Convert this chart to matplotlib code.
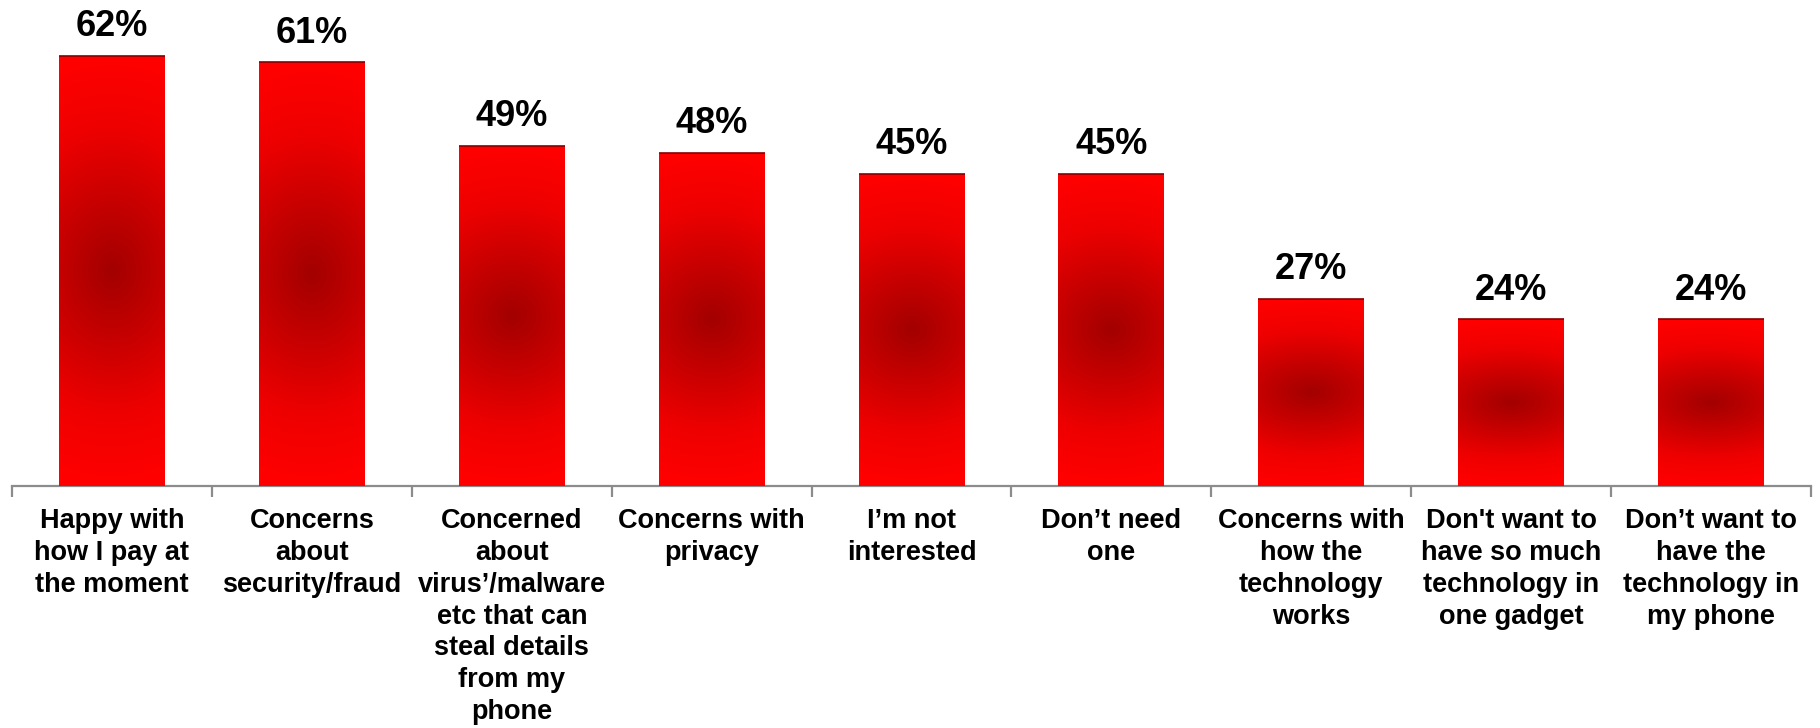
import numpy as np
import matplotlib
matplotlib.use("Agg")
import matplotlib.pyplot as plt
from matplotlib.colors import LinearSegmentedColormap

categories = [
    "Happy with\nhow I pay at\nthe moment",
    "Concerns\nabout\nsecurity/fraud",
    "Concerned\nabout\nvirus\u2019/malware\netc that can\nsteal details\nfrom my\nphone",
    "Concerns with\nprivacy",
    "I\u2019m not\ninterested",
    "Don\u2019t need\none",
    "Concerns with\nhow the\ntechnology\nworks",
    "Don't want to\nhave so much\ntechnology in\none gadget",
    "Don\u2019t want to\nhave the\ntechnology in\nmy phone",
]
values = [62, 61, 49, 48, 45, 45, 27, 24, 24]

plt.rcParams["font.family"] = ["Liberation Sans", "DejaVu Sans"]

fig = plt.figure(figsize=(18.2, 7.28), dpi=100)
ax = fig.add_axes([0.0066, 0.3325, 0.9885, 0.6675])

x = np.arange(len(values))
bars = ax.bar(x, values, width=0.53, color="#ff0000", zorder=2)

# radial shading: dark core in the middle of each bar, bright red toward the edges
cmap = LinearSegmentedColormap.from_list("bar_shade", ["#a30000", "#c80000", "#ee0000", "#ff0000"])
ny, nx = 200, 60
yy, xx = np.mgrid[-1:1:ny * 1j, -1:1:nx * 1j]
dist = np.sqrt((xx / 3.2) ** 2 + (yy * 1.0) ** 2)
shade = np.clip(dist, 0, 1)

for patch in bars:
    x0, w, h = patch.get_x(), patch.get_width(), patch.get_height()
    im = ax.imshow(shade, cmap=cmap, vmin=0, vmax=1, extent=(x0, x0 + w, 0, h),
                   aspect="auto", origin="lower", interpolation="bilinear", zorder=3)
    im.set_clip_path(patch)
    ax.plot([x0, x0 + w], [h, h], color="#8a0000", lw=1.2, zorder=4, solid_capstyle="butt")
    ax.text(x0 + w / 2, h + 1.7, f"{h:.0f}%", ha="center", va="bottom",
            fontsize=26, fontweight="bold", color="black", zorder=5)

ax.set_xlim(-0.5, len(values) - 0.5)
ax.set_ylim(0, 70)

for side in ["top", "right", "left"]:
    ax.spines[side].set_visible(False)
ax.spines["bottom"].set_color("#8c8c8c")
ax.spines["bottom"].set_linewidth(1.6)
ax.set_yticks([])

# category separators as tick marks
ax.set_xticks(np.arange(len(values) + 1) - 0.5, minor=False)
ax.set_xticklabels([])
ax.tick_params(axis="x", which="major", length=8, width=1.6, color="#8c8c8c", direction="out")
ax.set_xticks(x, minor=True)
ax.set_xticklabels(categories, minor=True, fontsize=19.5, fontweight="bold", linespacing=1.29)
ax.tick_params(axis="x", which="minor", length=0, pad=16)

fig.savefig("out.png", dpi=100, facecolor="white")
